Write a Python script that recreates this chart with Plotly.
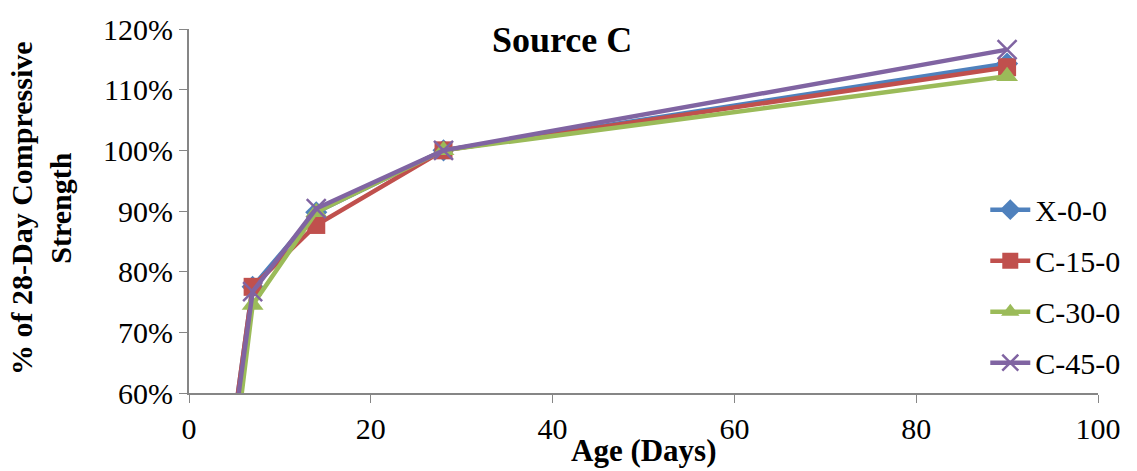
import plotly.graph_objects as go

# Age at test (days) and strength as a fraction of the 28-day value
days = [3, 7, 14, 28, 90]
x_0_0 = [0.34, 0.775, 0.898, 1.00, 1.143]
c_15_0 = [0.34, 0.775, 0.877, 1.00, 1.137]
c_30_0 = [0.26, 0.745, 0.898, 1.00, 1.122]
c_45_0 = [0.33, 0.767, 0.904, 1.00, 1.166]

series_names = ["X-0-0", "C-15-0", "C-30-0", "C-45-0"]
series_values = [x_0_0, c_15_0, c_30_0, c_45_0]
colors = ["#4F81BD", "#C0504D", "#9BBB59", "#8064A2"]
symbols = ["diamond", "square", "triangle-up", "x-thin"]
sizes = [17, 18, 19, 19]

y_ticks = [0.6, 0.7, 0.8, 0.9, 1.0, 1.1, 1.2]
x_ticks = [0, 20, 40, 60, 80, 100]

FONT = "Liberation Serif, Times New Roman, serif"

fig = go.Figure()
for name, vals, col, sym, sz in zip(series_names, series_values, colors, symbols, sizes):
    marker = dict(symbol=sym, size=sz, color=col)
    if sym == "x-thin":
        marker["line"] = dict(color=col, width=2.5)
    fig.add_trace(go.Scatter(
        x=days, y=vals, name=name, legendgroup=name,
        mode="lines+markers",
        line=dict(color=col, width=4.5),
        marker=marker,
    ))

fig.update_layout(
    width=1137, height=471,
    margin=dict(l=189, r=37, t=24, b=78),
    paper_bgcolor="white", plot_bgcolor="white",
    font=dict(family=FONT, size=30, color="black"),
    showlegend=True,
    legend=dict(
        x=0.876, y=0.575, xanchor="left", yanchor="top",
        bgcolor="rgba(0,0,0,0)",
        font=dict(family=FONT, size=30, color="black"),
        traceorder="grouped", tracegroupgap=9,
        itemwidth=40,
    ),
    annotations=[
        dict(text="<b>Source C</b>", x=0.41, y=1.0, xref="paper", yref="paper",
             xanchor="center", yanchor="top", yshift=11, showarrow=False,
             font=dict(family=FONT, size=36, color="black")),
        dict(text="<b>Age (Days)</b>", x=0.5, y=0, xref="paper", yref="paper",
             xanchor="center", yanchor="top", yshift=-38, showarrow=False,
             font=dict(family=FONT, size=31, color="black")),
        dict(text="<b>% of 28-Day Compressive<br>Strength</b>", x=0, y=0.5,
             xref="paper", yref="paper", xanchor="center", yanchor="middle",
             xshift=-148, yshift=3, showarrow=False, textangle=-90,
             font=dict(family=FONT, size=30, color="black")),
    ],
)

fig.update_xaxes(
    range=[0, 100], tickvals=x_ticks, ticktext=[str(v) for v in x_ticks],
    showgrid=False, zeroline=False, showline=True, linecolor="#868686", linewidth=2,
    ticks="outside", ticklen=8, tickcolor="#868686", tickwidth=1,
)
fig.update_yaxes(
    range=[0.6, 1.2], tickvals=y_ticks, ticktext=[f"{round(v*100)}%" for v in y_ticks],
    showgrid=False, zeroline=False, showline=True, linecolor="#868686", linewidth=2,
    ticks="outside", ticklen=8, tickcolor="#868686", tickwidth=1,
)

fig.write_html("out.html")
